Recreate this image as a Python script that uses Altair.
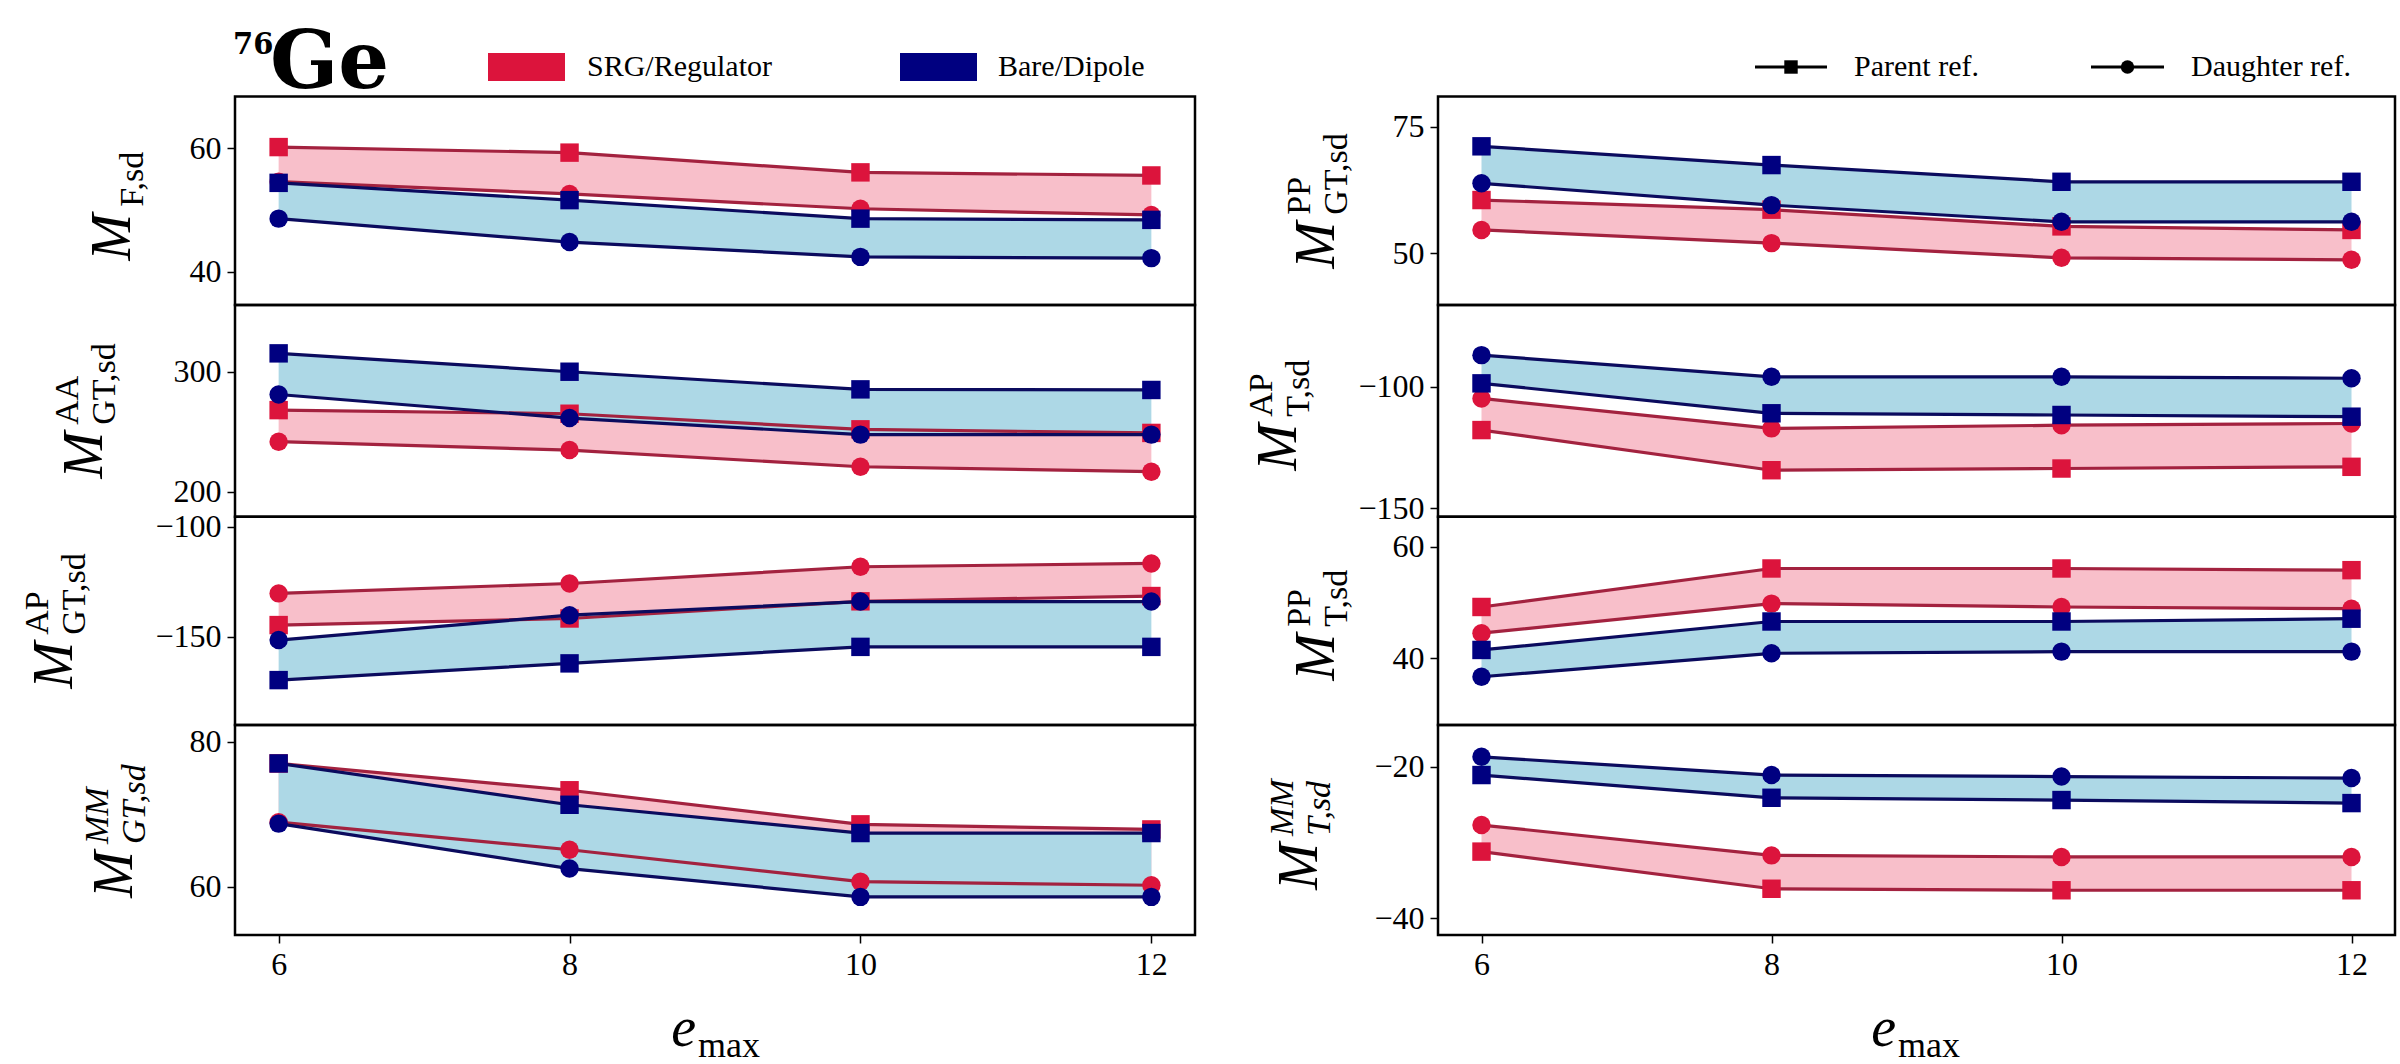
import altair as alt
import pandas as pd

# ---------------------------------------------------------------- data
E_MAX = [6, 8, 10, 12]
METHODS = ["SRG/Regulator", "Bare/Dipole"]
REFS = ["Parent ref.", "Daughter ref."]

# M_F,sd
F_SRG_PARENT = [60.2, 59.3, 56.1, 55.6]
F_SRG_DAUGHTER = [54.6, 52.6, 50.2, 49.2]
F_BARE_PARENT = [54.4, 51.6, 48.6, 48.4]
F_BARE_DAUGHTER = [48.6, 44.8, 42.4, 42.2]

# M^AA_GT,sd
GTAA_SRG_PARENT = [268.0, 265.0, 252.0, 249.0]
GTAA_SRG_DAUGHTER = [241.7, 234.7, 220.8, 216.7]
GTAA_BARE_PARENT = [315.3, 300.0, 285.3, 284.8]
GTAA_BARE_DAUGHTER = [281.0, 261.4, 247.6, 247.6]

# M^AP_GT,sd
GTAP_SRG_PARENT = [-144.7, -141.7, -133.9, -131.5]
GTAP_SRG_DAUGHTER = [-130.3, -125.8, -118.2, -116.7]
GTAP_BARE_PARENT = [-169.7, -162.1, -154.6, -154.6]
GTAP_BARE_DAUGHTER = [-151.5, -140.2, -134.0, -134.0]

# M^MM_GT,sd
GTMM_SRG_PARENT = [77.0, 73.3, 68.6, 67.9]
GTMM_SRG_DAUGHTER = [68.9, 65.1, 60.7, 60.2]
GTMM_BARE_PARENT = [77.0, 71.3, 67.4, 67.4]
GTMM_BARE_DAUGHTER = [68.7, 62.5, 58.6, 58.6]

# M^PP_GT,sd
GTPP_SRG_PARENT = [60.5, 58.6, 55.3, 54.6]
GTPP_SRG_DAUGHTER = [54.6, 52.0, 49.1, 48.7]
GTPP_BARE_PARENT = [71.1, 67.4, 64.1, 64.1]
GTPP_BARE_DAUGHTER = [63.8, 59.5, 56.2, 56.2]

# M^AP_T,sd
TAP_SRG_PARENT = [-117.8, -134.3, -133.6, -132.9]
TAP_SRG_DAUGHTER = [-104.8, -117.1, -115.8, -115.1]
TAP_BARE_PARENT = [-98.6, -110.9, -111.6, -112.3]
TAP_BARE_DAUGHTER = [-87.0, -95.9, -95.9, -96.5]

# M^PP_T,sd
TPP_SRG_PARENT = [49.2, 56.1, 56.1, 55.8]
TPP_SRG_DAUGHTER = [44.5, 49.8, 49.2, 48.9]
TPP_BARE_PARENT = [41.5, 46.6, 46.6, 47.1]
TPP_BARE_DAUGHTER = [36.7, 40.9, 41.2, 41.2]

# M^MM_T,sd
TMM_SRG_PARENT = [-31.2, -36.1, -36.3, -36.3]
TMM_SRG_DAUGHTER = [-27.7, -31.7, -31.9, -31.9]
TMM_BARE_PARENT = [-21.1, -24.1, -24.4, -24.8]
TMM_BARE_DAUGHTER = [-18.7, -21.1, -21.3, -21.5]

# ---------------------------------------------------------------- style
FONT = "Liberation Serif"
TAG_FONT = "DejaVu Serif"
RED = "#dc143c"
RED_LINE = "#a3223f"
RED_FILL = "#f8bfca"
BLUE = "#000080"
BLUE_LINE = "#0b0b5e"
BLUE_FILL = "#add8e6"
W, H = 2400, 1064

X_DOMAIN = [5.7, 12.3]
COL_X = {0: [235, 1195], 1: [1438, 2395]}
ROW_Y = [(96.5, 305.0), (305.0, 516.7), (516.7, 725.0), (725.0, 935.0)]

# (column, row, sup, sub, y-limits, tick values, label baseline x, series)
PANELS = [
    (0, 0, "", "F,sd", [34.6, 68.4], [40, 60], 130,
     [F_SRG_PARENT, F_SRG_DAUGHTER, F_BARE_PARENT, F_BARE_DAUGHTER]),
    (0, 1, "AA", "GT,sd", [179.2, 355.6], [200, 300], 102,
     [GTAA_SRG_PARENT, GTAA_SRG_DAUGHTER, GTAA_BARE_PARENT, GTAA_BARE_DAUGHTER]),
    (0, 2, "AP", "GT,sd", [-190.1, -95.45], [-150, -100], 72,
     [GTAP_SRG_PARENT, GTAP_SRG_DAUGHTER, GTAP_BARE_PARENT, GTAP_BARE_DAUGHTER]),
    (0, 3, "MM", "GT,sd", [53.34, 82.3], [60, 80], 132,
     [GTMM_SRG_PARENT, GTMM_SRG_DAUGHTER, GTMM_BARE_PARENT, GTMM_BARE_DAUGHTER]),
    (1, 0, "PP", "GT,sd", [39.79, 80.93], [50, 75], 1334,
     [GTPP_SRG_PARENT, GTPP_SRG_DAUGHTER, GTPP_BARE_PARENT, GTPP_BARE_DAUGHTER]),
    (1, 1, "AP", "T,sd", [-153.4, -66.4], [-150, -100], 1296,
     [TAP_SRG_PARENT, TAP_SRG_DAUGHTER, TAP_BARE_PARENT, TAP_BARE_DAUGHTER]),
    (1, 2, "PP", "T,sd", [28.05, 65.38], [40, 60], 1334,
     [TPP_SRG_PARENT, TPP_SRG_DAUGHTER, TPP_BARE_PARENT, TPP_BARE_DAUGHTER]),
    (1, 3, "MM", "T,sd", [-42.2, -14.5], [-40, -20], 1317,
     [TMM_SRG_PARENT, TMM_SRG_DAUGHTER, TMM_BARE_PARENT, TMM_BARE_DAUGHTER]),
]

ONE = pd.DataFrame({"k": [0]})


def label(text, x, y, size, angle=0, align="left", baseline="alphabetic",
          style="normal", weight="normal", font=FONT):
    return alt.Chart(ONE).mark_text(
        text=text, font=font, fontSize=size, angle=angle, align=align,
        baseline=baseline, fontStyle=style, fontWeight=weight, color="black",
    ).encode(x=alt.value(x), y=alt.value(y))


def panel_layers(col, row, sup, sub, ylim, ticks, _lx, series):
    """All layers of one panel; every layer carries the panel's own scales."""
    x0, x1 = COL_X[col]
    ytop, ybot = ROW_Y[row]
    xscale = alt.Scale(domain=X_DOMAIN, range=[x0, x1], nice=False, zero=False)
    yscale = alt.Scale(domain=ylim, range=[ybot, ytop], nice=False, zero=False)

    long_rows, band_rows = [], []
    for mi, method in enumerate(METHODS):
        parent, daughter = series[2 * mi], series[2 * mi + 1]
        for e, p, d in zip(E_MAX, parent, daughter):
            band_rows.append({"e": e, "parent": p, "daughter": d, "method": method})
            long_rows.append({"e": e, "v": p, "method": method, "ref": REFS[0]})
            long_rows.append({"e": e, "v": d, "method": method, "ref": REFS[1]})
    long = pd.DataFrame(long_rows)
    band = pd.DataFrame(band_rows)

    def xenc(field):
        return alt.X(field, scale=xscale, axis=None)

    def yenc(field):
        return alt.Y(field, scale=yscale, axis=None)

    layers = []
    fills = {METHODS[0]: RED_FILL, METHODS[1]: BLUE_FILL}
    for method in METHODS:
        layers.append(
            alt.Chart(band).transform_filter(alt.datum.method == method)
            .mark_area(color=fills[method], opacity=1)
            .encode(x=xenc("e:Q"), y=yenc("parent:Q"), y2="daughter:Q")
        )
    lines = {METHODS[0]: RED_LINE, METHODS[1]: BLUE_LINE}
    dots = {METHODS[0]: RED, METHODS[1]: BLUE}
    for method in METHODS:
        base = alt.Chart(long).transform_filter(alt.datum.method == method)
        layers.append(
            base.mark_line(color=lines[method], strokeWidth=3.2)
            .encode(x=xenc("e:Q"), y=yenc("v:Q"), detail="ref:N")
        )
        layers.append(
            base.mark_point(filled=True, opacity=1, size=340, color=dots[method])
            .encode(x=xenc("e:Q"), y=yenc("v:Q"),
                    shape=alt.Shape("ref:N",
                                    scale=alt.Scale(domain=REFS, range=["square", "circle"]),
                                    legend=None))
        )

    # frame of the panel, carrying its tick axes
    if row == 3:
        xaxis = alt.Axis(values=E_MAX, format="d", orient="bottom",
                         offset=-(H - ybot), title=None)
    else:
        xaxis = None
    yaxis = alt.Axis(values=ticks, orient="left", offset=-x0, title=None)
    frame = alt.Chart(pd.DataFrame({"x": [X_DOMAIN[0]], "x2": [X_DOMAIN[1]],
                                    "y": [ylim[0]], "y2": [ylim[1]]})).mark_rect(
        fill=None, stroke="black", strokeWidth=2.5
    ).encode(
        x=alt.X("x:Q", scale=xscale, axis=xaxis),
        x2="x2:Q",
        y=alt.Y("y:Q", scale=yscale, axis=yaxis),
        y2="y2:Q",
    )
    layers.append(frame)
    return layers


def ylabel(row, sup, sub, base_x):
    """Rotated M with super/subscripts, centred on the panel."""
    ytop, ybot = ROW_Y[row]
    yc = (ytop + ybot) / 2
    script_len = max(len(sup), len(sub)) * 16
    join = yc + (script_len - 44) / 2
    parts = [label("M", base_x, join + 3, 56, angle=270, align="right",
                   style="italic")]
    ital = "italic" if sup == "MM" else "normal"
    if sup:
        parts.append(label(sup, base_x - 24, join - 4, 34, angle=270,
                           align="left", style=ital))
    if sub:
        parts.append(label(sub, base_x + 13, join - 4, 34, angle=270,
                           align="left", style=ital))
    return parts


layers = []
for p in PANELS:
    layers += panel_layers(*p)

decor = []
for (col, row, sup, sub, _ylim, _ticks, lx, _s) in PANELS:
    decor += ylabel(row, sup, sub, lx)

# x-axis titles
for cx in (712, 1912):
    decor.append(label("e", cx - 16, 1046, 56, align="right", style="italic"))
    decor.append(label("max", cx - 14, 1057, 36, align="left"))

# nucleus tag
decor.append(label("76", 233, 54, 29, weight="bold", font=TAG_FONT))
decor.append(label("Ge", 270, 88, 80, weight="bold", font=TAG_FONT))

# method legend
for (xa, xb, tx, col, text) in [(488, 565, 587, RED, "SRG/Regulator"),
                                 (900, 977, 998, BLUE, "Bare/Dipole")]:
    decor.append(alt.Chart(ONE).mark_rect(color=col).encode(
        x=alt.value(xa), x2=alt.value(xb), y=alt.value(53), y2=alt.value(81)))
    decor.append(label(text, tx, 67, 30, baseline="middle"))

# reference legend
for (xa, xb, tx, shape, text) in [(1755, 1827, 1854, "square", "Parent ref."),
                                   (2091, 2164, 2191, "circle", "Daughter ref.")]:
    decor.append(alt.Chart(ONE).mark_rule(color="black", strokeWidth=3).encode(
        x=alt.value(xa), x2=alt.value(xb), y=alt.value(67)))
    decor.append(alt.Chart(ONE).mark_point(filled=True, opacity=1, color="black",
                                           shape=shape, size=180).encode(
        x=alt.value((xa + xb) / 2), y=alt.value(67)))
    decor.append(label(text, tx, 67, 30, baseline="middle"))

chart = alt.layer(*layers, *decor).resolve_scale(
    x="independent", y="independent", shape="independent"
).resolve_axis(
    x="independent", y="independent"
).properties(
    width=W, height=H, padding=0,
    autosize=alt.AutoSizeParams(type="none"),
).configure_view(stroke=None).configure_axis(
    labelFont=FONT, labelFontSize=32, labelColor="black", labelPadding=6,
    tickSize=8, tickWidth=1.5, tickColor="black", domain=False, grid=False,
)

chart.save("out.html", embed_options={"renderer": "svg", "actions": False})
